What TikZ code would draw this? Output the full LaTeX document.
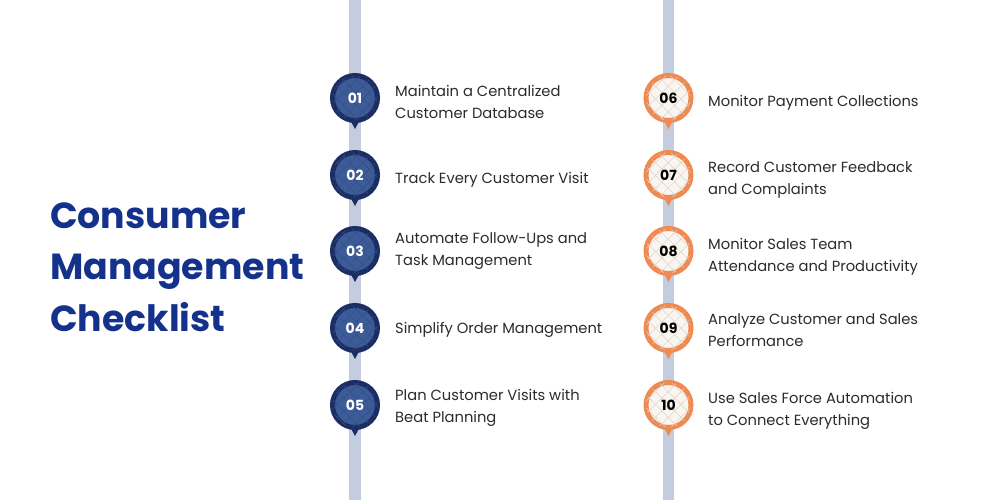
\documentclass[tikz,border=0pt]{standalone}
\usepackage{fontspec}
\setmainfont{Poppins}
\newfontfamily\titlefont{Poppins Bold}
\newfontfamily\numfont{Poppins Bold}
\usetikzlibrary{patterns.meta,calc}
\definecolor{railc}{HTML}{C4CDDF}
\definecolor{navyring}{HTML}{1C2D63}
\definecolor{navyfill}{HTML}{3D5B97}
\definecolor{navyhatch}{HTML}{32508A}
\definecolor{orangering}{HTML}{EF8A52}
\definecolor{creamfill}{HTML}{FAF5EE}
\definecolor{creamhatch}{HTML}{D8D4CE}
\definecolor{titlec}{HTML}{14328C}
\definecolor{textc}{HTML}{2B2B2B}
\tikzset{
  dotbase/.style={circle, minimum size=45pt, inner sep=0pt, line width=5pt,
    font=\numfont\fontsize{14}{14}\selectfont},
  bluedot/.style={dotbase, draw=navyring, fill=navyfill, text=white,
    postaction={pattern={Lines[angle=45,distance=9pt,line width=0.5pt]}, pattern color=navyhatch},
    postaction={pattern={Lines[angle=-45,distance=9pt,line width=0.5pt]}, pattern color=navyhatch}},
  orangedot/.style={dotbase, draw=orangering, fill=creamfill, text=black,
    postaction={pattern={Lines[angle=45,distance=9pt,line width=0.5pt]}, pattern color=creamhatch},
    postaction={pattern={Lines[angle=-45,distance=9pt,line width=0.5pt]}, pattern color=creamhatch}},
  lbl/.style={anchor=west, align=left, inner sep=0pt, text=textc,
    font=\fontsize{14.7}{22}\selectfont},
  titletxt/.style={anchor=west, align=left, inner sep=0pt, text=titlec,
    font=\titlefont\fontsize{36.3}{51.5}\selectfont},
}
\newcommand{\pointer}[3]{%
  \fill[#3] (#1-7,#2+18) -- (#1+7,#2+18) -- (#1,#2+31) -- cycle;}
\begin{document}
\begin{tikzpicture}[x=1pt,y=-1pt]
\useasboundingbox (0,0) rectangle (1000,500);
\fill[white] (0,0) rectangle (1000,500);
% rails
\fill[railc] (349,0) rectangle (361,500);
\fill[railc] (663,0) rectangle (674,500);
% title
\node[titletxt] (title) at (50,267) {Consumer\\Management\\Checklist};
% left column
\foreach \i/\y in {1/98,2/175,3/251,4/328,5/405}{\pointer{355}{\y}{navyring}}
\node[bluedot] (n1) at (355,98) {01};
\node[bluedot] (n2) at (355,175) {02};
\node[bluedot] (n3) at (355,251) {03};
\node[bluedot] (n4) at (355,328) {04};
\node[bluedot] (n5) at (355,405) {05};
\node[lbl] (t1) at (395,101.5) {Maintain a Centralized\\Customer Database};
\node[lbl] (t2) at (395,179.5) {Track Every Customer Visit};
\node[lbl] (t3) at (395,251.5) {Automate Follow-Ups and\\Task Management};
\node[lbl] (t4) at (395,329.5) {Simplify Order Management};
\node[lbl] (t5) at (395,407.5) {Plan Customer Visits with\\Beat Planning};
% right column
\foreach \i/\y in {6/98,7/175,8/251,9/328,10/405}{\pointer{668.5}{\y}{orangering}}
\node[orangedot] (n6) at (668.5,98) {06};
\node[orangedot] (n7) at (668.5,175) {07};
\node[orangedot] (n8) at (668.5,251) {08};
\node[orangedot] (n9) at (668.5,328) {09};
\node[orangedot] (n10) at (668.5,405) {10};
\node[lbl] (t6) at (708,102.5) {Monitor Payment Collections};
\node[lbl] (t7) at (708,179.5) {Record Customer Feedback\\and Complaints};
\node[lbl] (t8) at (708,256.5) {Monitor Sales Team\\Attendance and Productivity};
\node[lbl] (t9) at (708,330.5) {Analyze Customer and Sales\\Performance};
\node[lbl] (t10) at (708,410.5) {Use Sales Force Automation\\to Connect Everything};
\end{tikzpicture}
\end{document}
